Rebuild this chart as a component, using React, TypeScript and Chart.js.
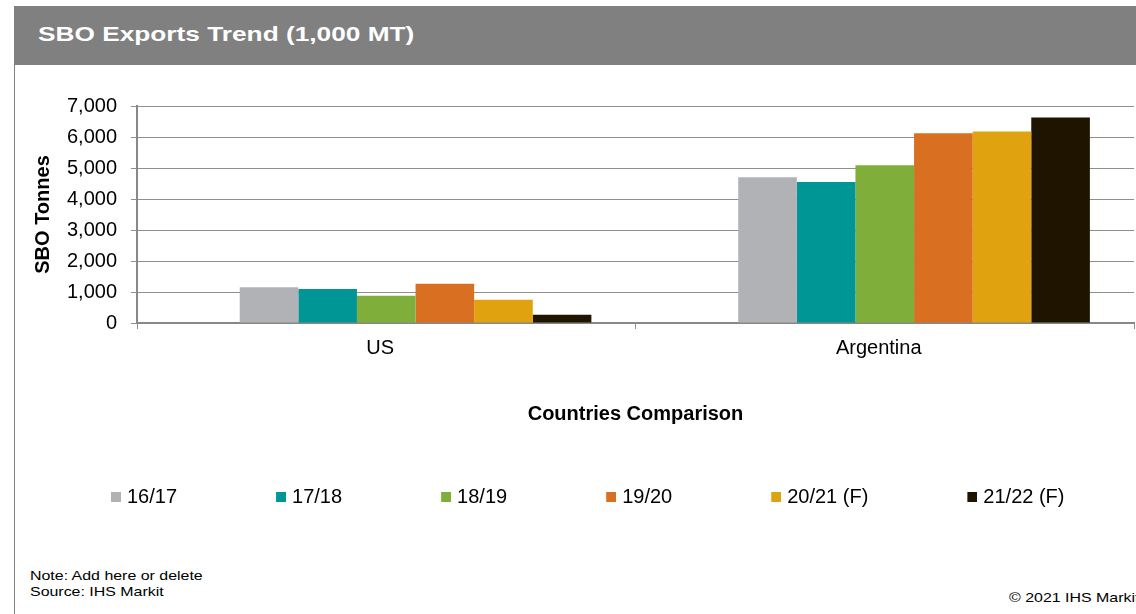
import React, { useEffect, useRef } from 'react';
import { Chart, registerables } from 'chart.js';

Chart.register(...registerables);

// ---- Data ----
const categories = ['US', 'Argentina'];
const seasonLabels = ['16/17', '17/18', '18/19', '19/20', '20/21 (F)', '21/22 (F)'];
const exports1617 = [1150, 4700];
const exports1718 = [1100, 4550];
const exports1819 = [880, 5090];
const exports1920 = [1270, 6120];
const exports2021 = [750, 6175];
const exports2122 = [265, 6630];
const seasonColors = ['#b1b2b5', '#009695', '#7fae3b', '#d97021', '#e0a30f', '#1e1400'];
const yMin = 0;
const yMax = 7000;
const yStep = 1000;

const titleText = 'SBO Exports Trend (1,000 MT)';
const yTitleText = 'SBO Tonnes';
const xTitleText = 'Countries Comparison';
const noteText = 'Note: Add here or delete';
const sourceText = 'Source: IHS Markit';
const copyrightText = '© 2021 IHS Markit';

const FONT = '"Liberation Sans", Arial, Helvetica, sans-serif';
const GRID = '#8f8f8f';
const AXIS = '#888888';

function makeLegendIcon(color: string): HTMLCanvasElement {
  const c = document.createElement('canvas');
  c.width = 93;
  c.height = 10;
  const ctx = c.getContext('2d');
  if (ctx) {
    ctx.fillStyle = color;
    ctx.fillRect(83, 0, 10, 10);
  }
  return c;
}

const footerStyle: React.CSSProperties = {
  position: 'absolute',
  fontSize: 13.5,
  lineHeight: '14px',
  color: '#000',
  whiteSpace: 'nowrap',
  transform: 'scaleX(1.18)',
  transformOrigin: 'left center',
};

export default function App() {
  const canvasRef = useRef<HTMLCanvasElement | null>(null);

  useEffect(() => {
    if (!canvasRef.current) return;
    Chart.defaults.font.family = FONT;
    const seriesValues = [exports1617, exports1718, exports1819, exports1920, exports2021, exports2122];
    const icons = seasonColors.map((c) => makeLegendIcon(c));

    const datasets: any[] = [
      {
        label: '',
        data: categories.map(() => null),
        backgroundColor: 'rgba(0,0,0,0)',
        borderWidth: 0,
      },
      ...seasonLabels.map((label, i) => ({
        label,
        data: seriesValues[i],
        backgroundColor: seasonColors[i],
        borderWidth: 0,
      })),
    ];

    const chart = new Chart(canvasRef.current, {
      type: 'bar',
      data: { labels: categories, datasets },
      options: {
        responsive: false,
        animation: false,
        layout: { padding: { top: 106, left: 12, right: 2, bottom: 0 } },
        datasets: { bar: { categoryPercentage: 0.823, barPercentage: 1 } },
        scales: {
          x: {
            offset: true,
            grid: {
              display: true,
              drawOnChartArea: false,
              drawTicks: true,
              tickLength: 6,
              color: GRID,
              lineWidth: 1,
              offset: true,
            },
            border: { display: true, color: AXIS, width: 2 },
            ticks: { font: { size: 20 }, color: '#000', padding: 7, labelOffset: -6 },
            title: {
              display: true,
              text: xTitleText,
              font: { size: 20, weight: 'bold' },
              color: '#000',
              padding: { top: 35, bottom: 41 },
            },
          },
          y: {
            min: yMin,
            max: yMax,
            ticks: {
              stepSize: yStep,
              font: { size: 20 },
              color: '#000',
              padding: 14,
              callback: (v: any) => Number(v).toLocaleString('en-US'),
            },
            grid: { color: GRID, lineWidth: 1, drawTicks: true, tickLength: 6 },
            border: { display: true, color: AXIS, width: 2 },
            title: {
              display: true,
              text: yTitleText,
              font: { size: 20, weight: 'bold' },
              color: '#000',
              padding: { top: 19, bottom: 0 },
            },
            afterFit: (scale: any) => {
              scale.width = 125;
            },
          },
        },
        plugins: {
          tooltip: { enabled: false },
          legend: {
            position: 'bottom',
            align: 'start',
            labels: {
              usePointStyle: true,
              pointStyleWidth: 85,
              padding: 20,
              font: { size: 20 },
              color: '#000',
              generateLabels: (ch: any) =>
                ch.data.datasets
                  .map((ds: any, i: number) => ({
                    text: ds.label,
                    fillStyle: ds.backgroundColor,
                    strokeStyle: ds.backgroundColor,
                    lineWidth: 0,
                    pointStyle: i > 0 ? icons[i - 1] : 'rect',
                    hidden: false,
                    datasetIndex: i,
                    fontColor: '#000',
                  }))
                  .filter((item: any) => item.text !== ''),
            },
          },
        },
      } as any,
    });

    return () => {
      chart.destroy();
    };
  }, []);

  return (
    <div
      style={{
        position: 'fixed',
        left: 0,
        top: 0,
        width: 1136,
        height: 614,
        overflow: 'hidden',
        background: '#fff',
        fontFamily: FONT,
      }}
    >
      <div style={{ position: 'absolute', left: 14, top: 6, width: 1122, height: 59, background: '#808080' }} />
      <div
        style={{
          position: 'absolute',
          left: 38,
          top: 23,
          color: '#fff',
          fontWeight: 'bold',
          fontSize: 21,
          lineHeight: '22px',
          whiteSpace: 'nowrap',
          transform: 'scaleX(1.25)',
          transformOrigin: 'left center',
        }}
      >
        {titleText}
      </div>
      <div style={{ position: 'absolute', left: 14, top: 65, width: 1, height: 549, background: '#808080' }} />
      <canvas
        ref={canvasRef}
        width={1136}
        height={517}
        style={{ position: 'absolute', left: 0, top: 0, width: 1136, height: 517, display: 'block' }}
      />
      <div style={{ ...footerStyle, left: 30, top: 569 }}>{noteText}</div>
      <div style={{ ...footerStyle, left: 30, top: 585 }}>{sourceText}</div>
      <div style={{ ...footerStyle, left: 1009, top: 591 }}>{copyrightText}</div>
    </div>
  );
}
